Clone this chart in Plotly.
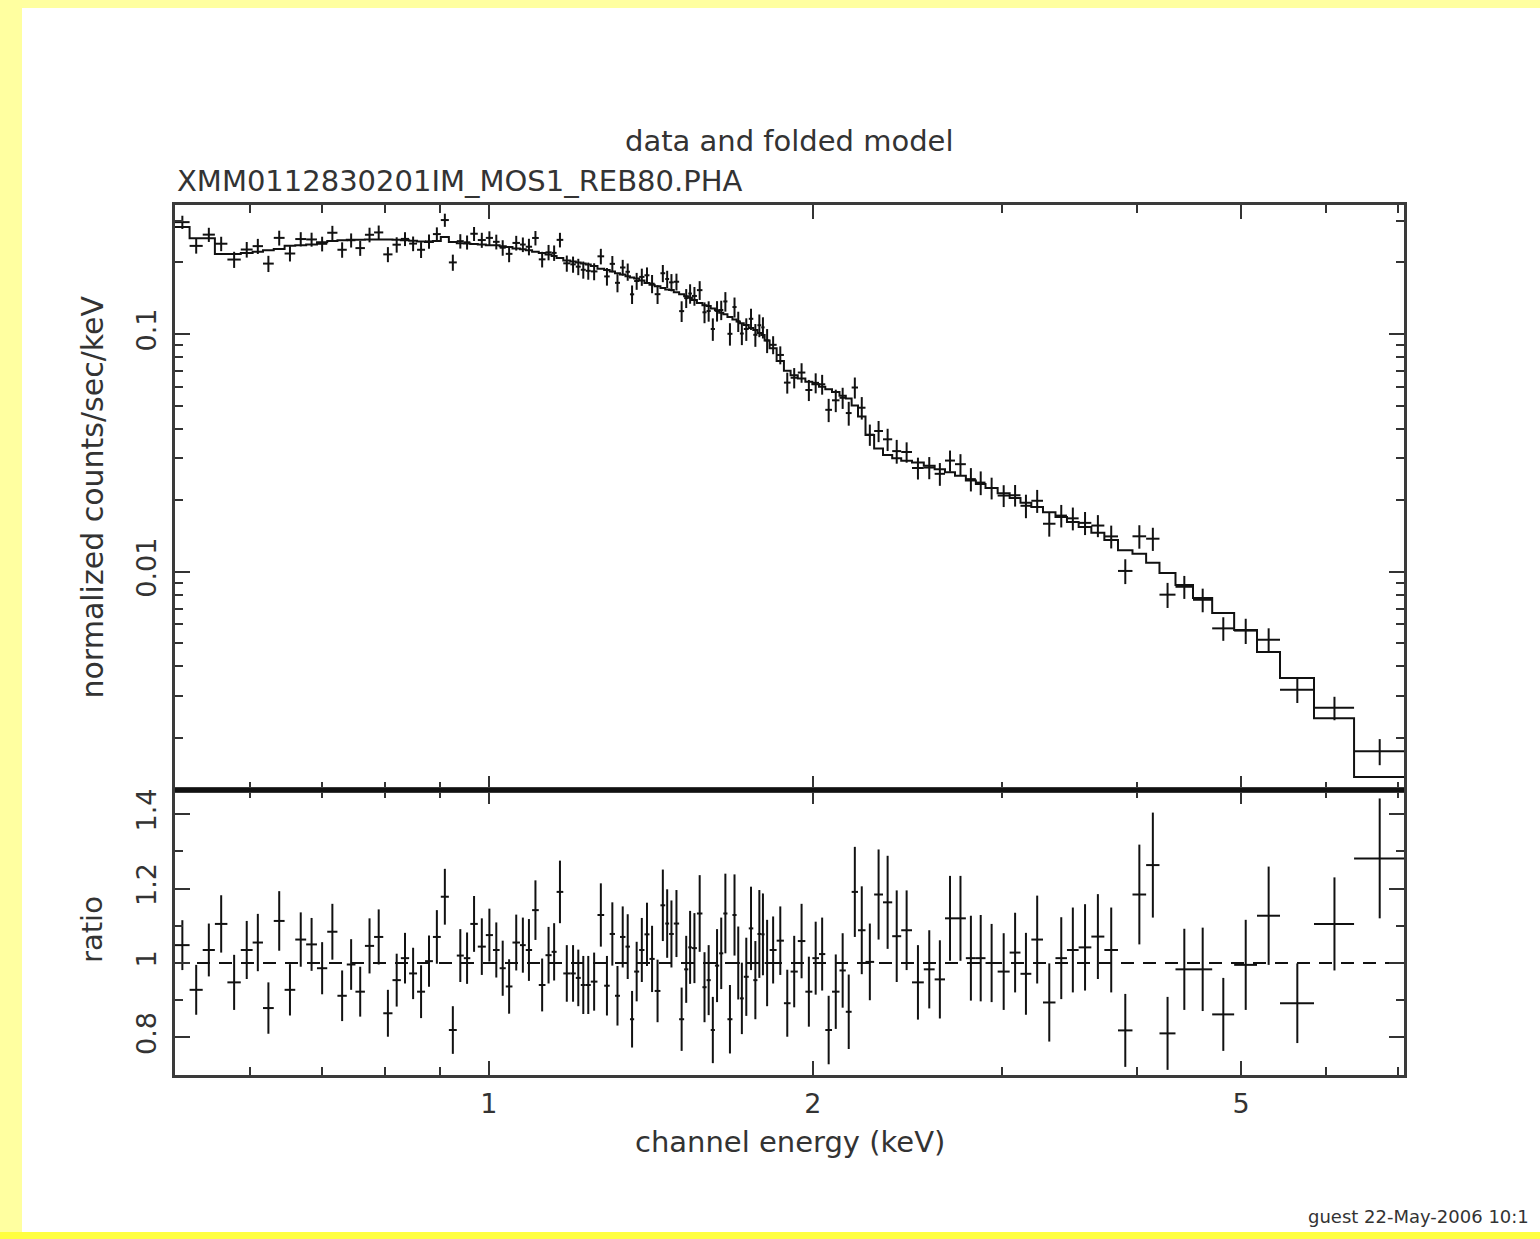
import numpy as np
import plotly.graph_objects as go

# Channel-group boundaries (keV)
edges = [
    0.5108, 0.5270, 0.5420, 0.5563, 0.5714, 0.5880, 0.6031, 0.6166, 0.6310, 0.6458,
    0.6607, 0.6763, 0.6921, 0.7075, 0.7231, 0.7377, 0.7515, 0.7669, 0.7821, 0.7976,
    0.8135, 0.8282, 0.8430, 0.8574, 0.8722, 0.8870, 0.9021, 0.9178, 0.9335, 0.9476,
    0.9609, 0.9764, 0.9933, 1.0086, 1.0231, 1.0366, 1.0516, 1.0686, 1.0819, 1.0967,
    1.1125, 1.1286, 1.1435, 1.1558, 1.1724, 1.1901, 1.2042, 1.2171, 1.2302, 1.2434,
    1.2614, 1.2796, 1.2948, 1.3095, 1.3236, 1.3392, 1.3522, 1.3644, 1.3791, 1.3948,
    1.4098, 1.4256, 1.4433, 1.4582, 1.4703, 1.4851, 1.5022, 1.5184, 1.5319, 1.5439,
    1.5605, 1.5790, 1.5931, 1.6073, 1.6218, 1.6365, 1.6511, 1.6658, 1.6837, 1.6987,
    1.7109, 1.7251, 1.7436, 1.7605, 1.7762, 1.7908, 1.8037, 1.8231, 1.8507, 1.8798,
    1.9068, 1.9364, 1.9680, 1.9977, 2.0263, 2.0538, 2.0835, 2.1172, 2.1459, 2.1729,
    2.2027, 2.2383, 2.2801, 2.3237, 2.3699, 2.4160, 2.4725, 2.5357, 2.5953, 2.6534,
    2.7108, 2.7745, 2.8345, 2.8936, 2.9698, 3.0470, 3.1185, 3.1917, 3.2723, 3.3610,
    3.4446, 3.5318, 3.6290, 3.7314, 3.8420, 3.9630, 4.0804, 4.1987, 4.3450, 4.5108,
    4.6999, 4.9261, 5.173, 5.434, 5.844, 6.367, 7.085,
]

# Folded model, normalized counts/sec/keV per channel group
model = [
    0.282, 0.253, 0.253, 0.217, 0.217, 0.219, 0.222, 0.225, 0.228, 0.235,
    0.236, 0.238, 0.243, 0.246, 0.248, 0.249, 0.249, 0.250, 0.250, 0.250,
    0.249, 0.248, 0.247, 0.245, 0.244, 0.246, 0.256, 0.244, 0.241, 0.240,
    0.239, 0.238, 0.236, 0.236, 0.234, 0.232, 0.229, 0.227, 0.225, 0.222,
    0.219, 0.216, 0.213, 0.209, 0.204, 0.202, 0.200, 0.198, 0.196, 0.193,
    0.188, 0.186, 0.183, 0.180, 0.178, 0.175, 0.173, 0.171, 0.168, 0.164,
    0.161, 0.159, 0.156, 0.154, 0.153, 0.150, 0.147, 0.144, 0.142, 0.139,
    0.135, 0.132, 0.131, 0.128, 0.126, 0.123, 0.121, 0.118, 0.115, 0.113,
    0.111, 0.109, 0.106, 0.104, 0.101, 0.099, 0.094, 0.087, 0.077, 0.070,
    0.067, 0.065, 0.063, 0.0615, 0.060, 0.0585, 0.057, 0.055, 0.0535, 0.050,
    0.045, 0.0376, 0.033, 0.031, 0.030, 0.0293, 0.0288, 0.0279, 0.0270, 0.0262,
    0.0253, 0.0242, 0.0234, 0.0225, 0.0214, 0.0204, 0.0195, 0.0187, 0.0178, 0.0170,
    0.0162, 0.0154, 0.0146, 0.0136, 0.0123, 0.0119, 0.0109, 0.00987, 0.00879, 0.00775,
    0.00670, 0.00568, 0.00459, 0.00357, 0.00242, 0.00137,
]

# Data / model ratio and its 1-sigma error
ratio = [
    1.048, 0.928, 1.035, 1.105, 0.948, 1.035, 1.055, 0.879, 1.113, 0.928,
    1.063, 1.050, 0.986, 1.084, 0.912, 0.996, 0.923, 1.046, 1.070, 0.865,
    0.954, 1.013, 0.972, 0.923, 1.005, 1.070, 1.178, 0.820, 1.020, 1.013,
    1.105, 1.044, 1.075, 1.035, 0.986, 0.937, 1.055, 1.048, 1.035, 1.142,
    0.941, 1.021, 1.030, 1.191, 0.972, 0.972, 0.960, 0.941, 0.941, 0.950,
    1.129, 0.939, 1.078, 0.912, 1.070, 1.044, 0.849, 0.977, 1.035, 1.077,
    1.011, 0.925, 1.155, 1.106, 1.078, 1.106, 0.849, 0.983, 1.042, 1.040,
    1.133, 0.935, 0.954, 0.820, 0.993, 1.026, 1.133, 0.849, 1.129, 1.000,
    0.905, 0.963, 1.093, 0.954, 1.078, 1.077, 1.000, 1.035, 1.060, 0.892,
    0.977, 1.059, 0.923, 1.013, 1.024, 0.820, 0.923, 0.980, 0.869, 1.191,
    1.088, 1.003, 1.184, 1.163, 1.072, 1.088, 0.948, 0.983, 0.956, 1.120,
    1.120, 1.013, 1.013, 1.000, 0.977, 1.028, 0.971, 1.063, 0.894, 1.013,
    1.035, 1.042, 1.071, 1.035, 0.819, 1.184, 1.263, 0.811, 0.983, 0.983,
    0.862, 0.995, 1.127, 0.892, 1.105, 1.281,
]
ratio_err = [
    0.067, 0.067, 0.071, 0.077, 0.074, 0.078, 0.077, 0.069, 0.080, 0.069,
    0.073, 0.071, 0.070, 0.075, 0.068, 0.068, 0.067, 0.074, 0.074, 0.063,
    0.071, 0.068, 0.069, 0.071, 0.069, 0.072, 0.075, 0.064, 0.071, 0.069,
    0.075, 0.076, 0.071, 0.074, 0.074, 0.073, 0.075, 0.074, 0.083, 0.080,
    0.071, 0.076, 0.077, 0.084, 0.076, 0.076, 0.076, 0.078, 0.078, 0.078,
    0.085, 0.080, 0.085, 0.080, 0.082, 0.087, 0.076, 0.080, 0.086, 0.085,
    0.089, 0.084, 0.096, 0.092, 0.090, 0.090, 0.085, 0.090, 0.098, 0.094,
    0.103, 0.094, 0.094, 0.089, 0.098, 0.096, 0.107, 0.092, 0.109, 0.098,
    0.096, 0.105, 0.112, 0.105, 0.118, 0.110, 0.116, 0.090, 0.092, 0.090,
    0.096, 0.100, 0.094, 0.098, 0.098, 0.092, 0.100, 0.100, 0.100, 0.121,
    0.118, 0.103, 0.121, 0.125, 0.123, 0.107, 0.100, 0.105, 0.105, 0.114,
    0.114, 0.114, 0.116, 0.105, 0.103, 0.107, 0.110, 0.118, 0.105, 0.110,
    0.114, 0.116, 0.114, 0.114, 0.098, 0.134, 0.141, 0.098, 0.109, 0.112,
    0.098, 0.121, 0.132, 0.107, 0.125, 0.161,
]

x_major = [1, 2, 5]
x_minor = [0.6, 0.7, 0.8, 0.9, 3, 4, 6, 7]
y_major = [0.01, 0.1]
y_minor = [0.002, 0.003, 0.004, 0.005, 0.006, 0.007, 0.008, 0.009,
           0.02, 0.03, 0.04, 0.05, 0.06, 0.07, 0.08, 0.09, 0.2, 0.3]
r_major = [0.8, 1.0, 1.2, 1.4]
r_minor = [0.7, 0.9, 1.1, 1.3]

lo = np.array(edges[:-1])
hi = np.array(edges[1:])
centre = 0.5 * (lo + hi)
mod = np.array(model)
rat = np.array(ratio)
counts = mod * rat
counts_err = mod * np.array(ratio_err)

INK = "#111111"
FONT = "DejaVu Sans"
TXT = "#333333"

fig = go.Figure()

# Upper panel: data with channel widths and errors
fig.add_trace(go.Scatter(
    x=centre, y=counts, mode="markers",
    marker=dict(size=1, color="rgba(0,0,0,0)"),
    error_x=dict(type="data", symmetric=False, array=hi - centre,
                 arrayminus=centre - lo, width=0, thickness=2, color=INK),
    error_y=dict(type="data", array=counts_err, width=0, thickness=2, color=INK),
    xaxis="x", yaxis="y", showlegend=False, hoverinfo="skip",
))
# Upper panel: folded model histogram
fig.add_trace(go.Scatter(
    x=edges, y=model + [model[-1]], mode="lines",
    line=dict(shape="hv", color=INK, width=2),
    xaxis="x", yaxis="y", showlegend=False, hoverinfo="skip",
))
# Lower panel: unity reference
fig.add_trace(go.Scatter(
    x=[edges[0], edges[-1]], y=[1, 1], mode="lines",
    line=dict(color=INK, width=2, dash="13px,9px"),
    xaxis="x2", yaxis="y2", showlegend=False, hoverinfo="skip",
))
# Lower panel: ratio points
fig.add_trace(go.Scatter(
    x=centre, y=rat, mode="markers",
    marker=dict(size=1, color="rgba(0,0,0,0)"),
    error_x=dict(type="data", symmetric=False, array=hi - centre,
                 arrayminus=centre - lo, width=0, thickness=2, color=INK),
    error_y=dict(type="data", array=ratio_err, width=0, thickness=2, color=INK),
    xaxis="x2", yaxis="y2", showlegend=False, hoverinfo="skip",
))

split = 0.32759
xrange_log = [np.log10(edges[0]), np.log10(edges[-1])]

axis_common = dict(
    showline=True, linecolor="#3a3a3a", linewidth=2.5,
    ticks="inside", tickcolor="#333333", tickwidth=2, mirror="allticks",
    showgrid=False, zeroline=False,
    tickfont=dict(family=FONT, size=27, color=TXT),
)
minor_common = dict(tickmode="array", ticklen=8, ticks="inside",
                    tickcolor="#333333", tickwidth=2)

fig.update_layout(
    width=1540, height=1239,
    margin=dict(l=175, r=136, t=205, b=164),
    paper_bgcolor="#FFFFA0", plot_bgcolor="white",
    xaxis=dict(
        type="log", range=xrange_log, domain=[0, 1], anchor="y",
        tickmode="array", tickvals=x_major, ticklen=14, showticklabels=False,
        minor=dict(tickvals=x_minor, **minor_common),
        **axis_common,
    ),
    yaxis=dict(
        type="log", range=[-2.9184, -0.4573], domain=[split, 1], anchor="x",
        tickmode="array", tickvals=y_major, ticktext=["0.01", "0.1"],
        tickangle=-90, ticklen=15, ticklabelstandoff=5,
        minor=dict(tickvals=y_minor, **minor_common),
        **axis_common,
    ),
    xaxis2=dict(
        type="log", range=xrange_log, domain=[0, 1], anchor="y2", matches="x",
        tickmode="array", tickvals=x_major, ticktext=["1", "2", "5"], ticklen=14,
        ticklabelstandoff=3,
        minor=dict(tickvals=x_minor, **minor_common),
        **axis_common,
    ),
    yaxis2=dict(
        range=[0.6992, 1.4647], domain=[0, split], anchor="x2",
        tickmode="array", tickvals=r_major, ticktext=["0.8", "1", "1.2", "1.4"],
        tickangle=-90, ticklen=15, ticklabelstandoff=5,
        minor=dict(tickvals=r_minor, **minor_common),
        **axis_common,
    ),
)

# Page frame: white sheet on the yellow backdrop
fig.add_shape(type="rect", xref="paper", yref="paper", layer="below",
              x0=-0.12449, x1=1.12, y0=-0.18046, y1=1.22644,
              fillcolor="white", line=dict(width=0))
fig.add_shape(type="rect", xref="paper", yref="paper", layer="below",
              x0=-0.15, x1=1.12, y0=-0.19, y1=-0.18046,
              fillcolor="#FFFF40", line=dict(width=0))
# Heavy divider between the two panels
fig.add_shape(type="line", xref="paper", yref="paper",
              x0=0, x1=1, y0=split, y1=split,
              line=dict(color=INK, width=4))

def label(text, x, y, size=29, angle=0, xanchor="center", weight="normal"):
    fig.add_annotation(text=text, x=x, y=y, xref="paper", yref="paper",
                       showarrow=False, textangle=angle, xanchor=xanchor,
                       yanchor="middle",
                       font=dict(family=FONT, size=size, color=TXT, weight=weight))

label("data and folded model", 0.5, 1.07356)
label("XMM0112830201IM_MOS1_REB80.PHA", 0.0, 1.02759, xanchor="left")
label("normalized counts/sec/keV", -0.06753, 0.66379, size=30, angle=-90)
label("ratio", -0.06753, 0.1667, angle=-90)
label("channel energy (keV)", 0.5, -0.07701)
label("guest 22-May-2006 10:1", 0.92026, -0.16207, size=18, xanchor="left")

fig.write_html("out.html")
